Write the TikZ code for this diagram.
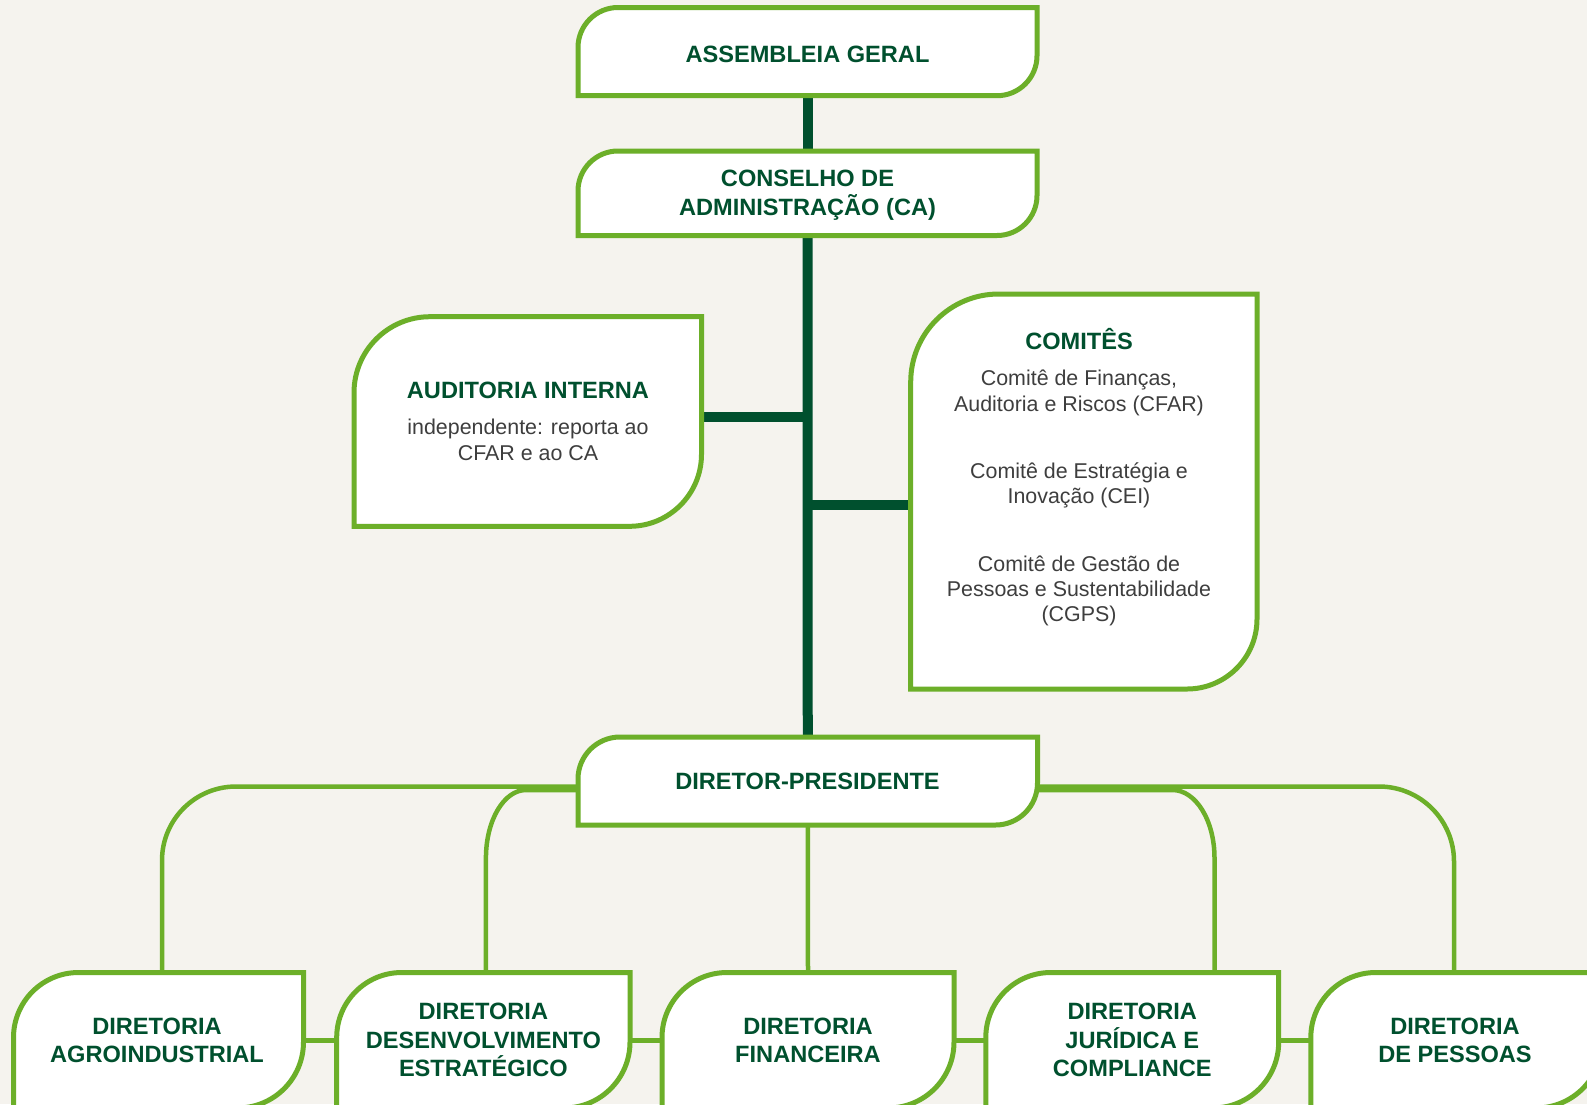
\documentclass[tikz,border=0pt]{standalone}
\usepackage{fontspec}
\setmainfont{Liberation Sans}
\usetikzlibrary{calc}
\definecolor{bgc}{RGB}{245,243,238}
\definecolor{lgreen}{RGB}{108,175,41}
\definecolor{dgreen}{RGB}{0,80,46}
\definecolor{bodyc}{RGB}{62,62,62}
\newcommand{\rbox}[3]{\draw[boxline] ($(#1.north west)+(0,#2)$) arc[start angle=180,end angle=270,radius=#2] -- (#1.north east) -- ($(#1.south east)+(0,-#3)$) arc[start angle=0,end angle=90,radius=#3] -- (#1.south west) -- cycle;}
\begin{document}
\begin{tikzpicture}[x=1pt,y=-1pt,
 frame/.style={rectangle, inner sep=0pt, outer sep=0pt},
 boxline/.style={draw=lgreen, line width=5pt, fill=white},
 trunk/.style={draw=dgreen, line width=10pt},
 arm/.style={draw=dgreen, line width=9.5pt},
 tree/.style={draw=lgreen, line width=4.5pt},
 title/.style={text=dgreen, font=\bfseries\fontsize{23.6}{28.6}\selectfont, align=center, inner sep=0pt},
 body/.style={text=bodyc, font=\fontsize{21.4}{25.3}\selectfont, align=center, inner sep=0pt}]
\useasboundingbox (0,0) rectangle (1587,1104);
\fill[bgc] (0,0) rectangle (1587,1104);
% frames
\node[frame, minimum width=459pt, minimum height=88.2pt] (ag) at (807.5,51.6) {};
\node[frame, minimum width=459pt, minimum height=84.5pt] (ca) at (807.5,193.25) {};
\node[frame, minimum width=347.5pt, minimum height=209.6pt] (ai) at (527.75,421.5) {};
\node[frame, minimum width=346.3pt, minimum height=395pt] (cm) at (1083.85,491.5) {};
\node[frame, minimum width=459.5pt, minimum height=88pt] (dp) at (807.75,781) {};
\node[frame, minimum width=290pt, minimum height=135.5pt] (b1) at (158.5,1040.25) {};
\node[frame, minimum width=293.3pt, minimum height=135.5pt] (b2) at (483.35,1040.25) {};
\node[frame, minimum width=292pt, minimum height=135.5pt] (b3) at (808,1040.25) {};
\node[frame, minimum width=292.9pt, minimum height=135.5pt] (b4) at (1132.25,1040.25) {};
\node[frame, minimum width=291.2pt, minimum height=135.5pt] (b5) at (1456.4,1040.25) {};
% dark connectors
\draw[trunk] (ag.south) -- (ca.north);
\draw[trunk] (ca.south) -- (dp.north);
\coordinate (j1) at (807.5,417);
\coordinate (j2) at (807.5,505);
\draw[arm] (ai.east |- j1) -- (j1);
\draw[arm] (j2) -- (j2 -| cm.west);
% tree connectors
\draw[tree] (dp.south) -- (b3.north);
\draw[tree] (b1.east) -- (b2.west);
\draw[tree] (b2.east) -- (b3.west);
\draw[tree] (b3.east) -- (b4.west);
\draw[tree] (b4.east) -- (b5.west);
\draw[tree] let \p1=([yshift=-5.5pt]dp.west), \p2=([xshift=3.5pt]b1.north) in (\p1) -- (\x2+74pt,\y1) arc[start angle=270,end angle=180,radius=74] -- (\p2);
\draw[tree] let \p1=([yshift=-9pt]dp.west), \p2=([xshift=2.6pt]b2.north) in (\p1) -- (\x2+40pt,\y1) arc[start angle=270,end angle=180,x radius=40,y radius=68] -- (\p2);
\draw[tree] let \p1=([yshift=-9pt]dp.east), \p2=([xshift=82.25pt]b4.north) in (\p1) -- (\x2-42pt,\y1) arc[start angle=270,end angle=360,x radius=42,y radius=68] -- (\p2);
\draw[tree] let \p1=([yshift=-5.5pt]dp.east), \p2=([xshift=-2.4pt]b5.north) in (\p1) -- (\x2-75pt,\y1) arc[start angle=270,end angle=360,radius=75] -- (\p2);
% boxes
\rbox{ag}{40}{40}
\rbox{ca}{40}{40}
\rbox{ai}{76}{72}
\rbox{cm}{88}{70}
\rbox{dp}{42}{42}
\rbox{b1}{65}{66}
\rbox{b2}{65}{66}
\rbox{b3}{65}{66}
\rbox{b4}{65}{66}
\rbox{b5}{65}{66}
% texts
\node[title] (ag-t) at (807.5,62.5) {\smash{ASSEMBLEIA GERAL}};
\node[title] (ca-t) at (807.5,200.9) {\smash{CONSELHO DE}\\\smash{ADMINISTRAÇÃO (CA)}};
\node[title] (ai-t) at (528,398.3) {\smash{AUDITORIA INTERNA}};
\node[body] (ai-b) at (528,447.5) {\smash{independente: reporta ao}\\\smash{CFAR e ao CA}};
\node[title] (cm-t) at (1079,349) {\smash{COMITÊS}};
\node[body] (cm-b) at (1079,503.85) {\smash{Comitê de Finanças,}\\\smash{Auditoria e Riscos (CFAR)}\\[42pt]\smash{Comitê de Estratégia e}\\\smash{Inovação (CEI)}\\[42pt]\smash{Comitê de Gestão de}\\\smash{Pessoas e Sustentabilidade}\\\smash{(CGPS)}};
\node[title] (dp-t) at (807.5,789) {\smash{DIRETOR-PRESIDENTE}};
\node[title] (b1-t) at (157,1048.3) {\smash{DIRETORIA}\\\smash{AGROINDUSTRIAL}};
\node[title] (b2-t) at (483.35,1048.3) {\smash{DIRETORIA}\\\smash{DESENVOLVIMENTO}\\\smash{ESTRATÉGICO}};
\node[title] (b3-t) at (808,1048.3) {\smash{DIRETORIA}\\\smash{FINANCEIRA}};
\node[title] (b4-t) at (1132.25,1048.3) {\smash{DIRETORIA}\\\smash{JURÍDICA E}\\\smash{COMPLIANCE}};
\node[title] (b5-t) at (1455,1048.3) {\smash{DIRETORIA}\\\smash{DE PESSOAS}};
\end{tikzpicture}
\end{document}
